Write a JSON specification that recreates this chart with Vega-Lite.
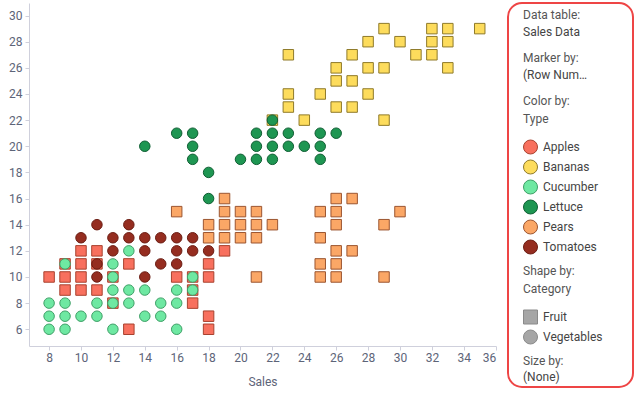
{
  "$schema": "https://vega.github.io/schema/vega-lite/v6.json",
  "padding": {"left": 8, "top": 2, "right": 3, "bottom": 2},
  "background": "white",
  "config": {
    "font": "Roboto",
    "view": {"stroke": null},
    "concat": {"spacing": 10},
    "axis": {
      "grid": false,
      "domainColor": "#cfd0dc",
      "tickColor": "#cfd0dc",
      "tickSize": 4,
      "labelColor": "#5d6478",
      "labelFontSize": 12,
      "labelFont": "Roboto",
      "titleFont": "Roboto",
      "titleFontSize": 12,
      "titleFontWeight": "normal",
      "titleColor": "#5d6478"
    },
    "legend": {
      "padding": 0,
      "titleFont": "Roboto",
      "titleFontSize": 12,
      "titleFontWeight": "normal",
      "titleColor": "#555555",
      "titleLineHeight": 17.5,
      "titleLimit": 200,
      "labelFont": "Roboto",
      "labelFontSize": 12,
      "labelColor": "#444444",
      "labelOffset": 5,
      "symbolSize": 196,
      "symbolStrokeWidth": 1,
      "rowPadding": 1
    }
  },
  "datasets": {
    "sales": [
      {"Sales": 8, "Value": 10, "Type": "Apples", "Category": "Fruit"},
      {"Sales": 9, "Value": 9, "Type": "Apples", "Category": "Fruit"},
      {"Sales": 9, "Value": 10, "Type": "Apples", "Category": "Fruit"},
      {"Sales": 9, "Value": 11, "Type": "Apples", "Category": "Fruit"},
      {"Sales": 10, "Value": 9, "Type": "Apples", "Category": "Fruit"},
      {"Sales": 10, "Value": 10, "Type": "Apples", "Category": "Fruit"},
      {"Sales": 10, "Value": 11, "Type": "Apples", "Category": "Fruit"},
      {"Sales": 10, "Value": 12, "Type": "Apples", "Category": "Fruit"},
      {"Sales": 11, "Value": 9, "Type": "Apples", "Category": "Fruit"},
      {"Sales": 11, "Value": 11, "Type": "Apples", "Category": "Fruit"},
      {"Sales": 11, "Value": 12, "Type": "Apples", "Category": "Fruit"},
      {"Sales": 12, "Value": 8, "Type": "Apples", "Category": "Fruit"},
      {"Sales": 12, "Value": 10, "Type": "Apples", "Category": "Fruit"},
      {"Sales": 13, "Value": 6, "Type": "Apples", "Category": "Fruit"},
      {"Sales": 13, "Value": 11, "Type": "Apples", "Category": "Fruit"},
      {"Sales": 16, "Value": 10, "Type": "Apples", "Category": "Fruit"},
      {"Sales": 17, "Value": 8, "Type": "Apples", "Category": "Fruit"},
      {"Sales": 17, "Value": 9, "Type": "Apples", "Category": "Fruit"},
      {"Sales": 17, "Value": 10, "Type": "Apples", "Category": "Fruit"},
      {"Sales": 18, "Value": 6, "Type": "Apples", "Category": "Fruit"},
      {"Sales": 18, "Value": 7, "Type": "Apples", "Category": "Fruit"},
      {"Sales": 18, "Value": 10, "Type": "Apples", "Category": "Fruit"},
      {"Sales": 18, "Value": 11, "Type": "Apples", "Category": "Fruit"},
      {"Sales": 19, "Value": 12, "Type": "Apples", "Category": "Fruit"},
      {"Sales": 22, "Value": 22, "Type": "Bananas", "Category": "Fruit"},
      {"Sales": 23, "Value": 23, "Type": "Bananas", "Category": "Fruit"},
      {"Sales": 23, "Value": 24, "Type": "Bananas", "Category": "Fruit"},
      {"Sales": 23, "Value": 27, "Type": "Bananas", "Category": "Fruit"},
      {"Sales": 24, "Value": 22, "Type": "Bananas", "Category": "Fruit"},
      {"Sales": 25, "Value": 24, "Type": "Bananas", "Category": "Fruit"},
      {"Sales": 26, "Value": 23, "Type": "Bananas", "Category": "Fruit"},
      {"Sales": 26, "Value": 25, "Type": "Bananas", "Category": "Fruit"},
      {"Sales": 26, "Value": 26, "Type": "Bananas", "Category": "Fruit"},
      {"Sales": 27, "Value": 23, "Type": "Bananas", "Category": "Fruit"},
      {"Sales": 27, "Value": 25, "Type": "Bananas", "Category": "Fruit"},
      {"Sales": 27, "Value": 27, "Type": "Bananas", "Category": "Fruit"},
      {"Sales": 28, "Value": 24, "Type": "Bananas", "Category": "Fruit"},
      {"Sales": 28, "Value": 26, "Type": "Bananas", "Category": "Fruit"},
      {"Sales": 28, "Value": 28, "Type": "Bananas", "Category": "Fruit"},
      {"Sales": 29, "Value": 22, "Type": "Bananas", "Category": "Fruit"},
      {"Sales": 29, "Value": 26, "Type": "Bananas", "Category": "Fruit"},
      {"Sales": 29, "Value": 29, "Type": "Bananas", "Category": "Fruit"},
      {"Sales": 30, "Value": 28, "Type": "Bananas", "Category": "Fruit"},
      {"Sales": 31, "Value": 27, "Type": "Bananas", "Category": "Fruit"},
      {"Sales": 32, "Value": 27, "Type": "Bananas", "Category": "Fruit"},
      {"Sales": 32, "Value": 28, "Type": "Bananas", "Category": "Fruit"},
      {"Sales": 32, "Value": 29, "Type": "Bananas", "Category": "Fruit"},
      {"Sales": 33, "Value": 26, "Type": "Bananas", "Category": "Fruit"},
      {"Sales": 33, "Value": 28, "Type": "Bananas", "Category": "Fruit"},
      {"Sales": 33, "Value": 29, "Type": "Bananas", "Category": "Fruit"},
      {"Sales": 35, "Value": 29, "Type": "Bananas", "Category": "Fruit"},
      {"Sales": 8, "Value": 6, "Type": "Cucumber", "Category": "Vegetables"},
      {"Sales": 8, "Value": 7, "Type": "Cucumber", "Category": "Vegetables"},
      {"Sales": 8, "Value": 8, "Type": "Cucumber", "Category": "Vegetables"},
      {"Sales": 9, "Value": 6, "Type": "Cucumber", "Category": "Vegetables"},
      {"Sales": 9, "Value": 7, "Type": "Cucumber", "Category": "Vegetables"},
      {"Sales": 9, "Value": 8, "Type": "Cucumber", "Category": "Vegetables"},
      {"Sales": 9, "Value": 11, "Type": "Cucumber", "Category": "Vegetables"},
      {"Sales": 10, "Value": 7, "Type": "Cucumber", "Category": "Vegetables"},
      {"Sales": 11, "Value": 7, "Type": "Cucumber", "Category": "Vegetables"},
      {"Sales": 11, "Value": 8, "Type": "Cucumber", "Category": "Vegetables"},
      {"Sales": 12, "Value": 6, "Type": "Cucumber", "Category": "Vegetables"},
      {"Sales": 12, "Value": 8, "Type": "Cucumber", "Category": "Vegetables"},
      {"Sales": 12, "Value": 9, "Type": "Cucumber", "Category": "Vegetables"},
      {"Sales": 12, "Value": 10, "Type": "Cucumber", "Category": "Vegetables"},
      {"Sales": 12, "Value": 11, "Type": "Cucumber", "Category": "Vegetables"},
      {"Sales": 13, "Value": 8, "Type": "Cucumber", "Category": "Vegetables"},
      {"Sales": 13, "Value": 9, "Type": "Cucumber", "Category": "Vegetables"},
      {"Sales": 13, "Value": 12, "Type": "Cucumber", "Category": "Vegetables"},
      {"Sales": 14, "Value": 7, "Type": "Cucumber", "Category": "Vegetables"},
      {"Sales": 14, "Value": 9, "Type": "Cucumber", "Category": "Vegetables"},
      {"Sales": 15, "Value": 7, "Type": "Cucumber", "Category": "Vegetables"},
      {"Sales": 15, "Value": 8, "Type": "Cucumber", "Category": "Vegetables"},
      {"Sales": 16, "Value": 6, "Type": "Cucumber", "Category": "Vegetables"},
      {"Sales": 16, "Value": 8, "Type": "Cucumber", "Category": "Vegetables"},
      {"Sales": 16, "Value": 9, "Type": "Cucumber", "Category": "Vegetables"},
      {"Sales": 17, "Value": 9, "Type": "Cucumber", "Category": "Vegetables"},
      {"Sales": 17, "Value": 10, "Type": "Cucumber", "Category": "Vegetables"},
      {"Sales": 14, "Value": 20, "Type": "Lettuce", "Category": "Vegetables"},
      {"Sales": 16, "Value": 21, "Type": "Lettuce", "Category": "Vegetables"},
      {"Sales": 17, "Value": 19, "Type": "Lettuce", "Category": "Vegetables"},
      {"Sales": 17, "Value": 20, "Type": "Lettuce", "Category": "Vegetables"},
      {"Sales": 17, "Value": 21, "Type": "Lettuce", "Category": "Vegetables"},
      {"Sales": 18, "Value": 16, "Type": "Lettuce", "Category": "Vegetables"},
      {"Sales": 18, "Value": 18, "Type": "Lettuce", "Category": "Vegetables"},
      {"Sales": 20, "Value": 19, "Type": "Lettuce", "Category": "Vegetables"},
      {"Sales": 21, "Value": 19, "Type": "Lettuce", "Category": "Vegetables"},
      {"Sales": 21, "Value": 20, "Type": "Lettuce", "Category": "Vegetables"},
      {"Sales": 21, "Value": 21, "Type": "Lettuce", "Category": "Vegetables"},
      {"Sales": 22, "Value": 19, "Type": "Lettuce", "Category": "Vegetables"},
      {"Sales": 22, "Value": 20, "Type": "Lettuce", "Category": "Vegetables"},
      {"Sales": 22, "Value": 21, "Type": "Lettuce", "Category": "Vegetables"},
      {"Sales": 22, "Value": 22, "Type": "Lettuce", "Category": "Vegetables"},
      {"Sales": 23, "Value": 20, "Type": "Lettuce", "Category": "Vegetables"},
      {"Sales": 23, "Value": 21, "Type": "Lettuce", "Category": "Vegetables"},
      {"Sales": 24, "Value": 20, "Type": "Lettuce", "Category": "Vegetables"},
      {"Sales": 25, "Value": 19, "Type": "Lettuce", "Category": "Vegetables"},
      {"Sales": 25, "Value": 20, "Type": "Lettuce", "Category": "Vegetables"},
      {"Sales": 25, "Value": 21, "Type": "Lettuce", "Category": "Vegetables"},
      {"Sales": 26, "Value": 21, "Type": "Lettuce", "Category": "Vegetables"},
      {"Sales": 16, "Value": 15, "Type": "Pears", "Category": "Fruit"},
      {"Sales": 18, "Value": 13, "Type": "Pears", "Category": "Fruit"},
      {"Sales": 18, "Value": 14, "Type": "Pears", "Category": "Fruit"},
      {"Sales": 19, "Value": 13, "Type": "Pears", "Category": "Fruit"},
      {"Sales": 19, "Value": 14, "Type": "Pears", "Category": "Fruit"},
      {"Sales": 19, "Value": 15, "Type": "Pears", "Category": "Fruit"},
      {"Sales": 19, "Value": 16, "Type": "Pears", "Category": "Fruit"},
      {"Sales": 20, "Value": 13, "Type": "Pears", "Category": "Fruit"},
      {"Sales": 20, "Value": 14, "Type": "Pears", "Category": "Fruit"},
      {"Sales": 20, "Value": 15, "Type": "Pears", "Category": "Fruit"},
      {"Sales": 21, "Value": 10, "Type": "Pears", "Category": "Fruit"},
      {"Sales": 21, "Value": 13, "Type": "Pears", "Category": "Fruit"},
      {"Sales": 21, "Value": 14, "Type": "Pears", "Category": "Fruit"},
      {"Sales": 21, "Value": 15, "Type": "Pears", "Category": "Fruit"},
      {"Sales": 22, "Value": 14, "Type": "Pears", "Category": "Fruit"},
      {"Sales": 25, "Value": 10, "Type": "Pears", "Category": "Fruit"},
      {"Sales": 25, "Value": 11, "Type": "Pears", "Category": "Fruit"},
      {"Sales": 25, "Value": 13, "Type": "Pears", "Category": "Fruit"},
      {"Sales": 25, "Value": 15, "Type": "Pears", "Category": "Fruit"},
      {"Sales": 26, "Value": 10, "Type": "Pears", "Category": "Fruit"},
      {"Sales": 26, "Value": 11, "Type": "Pears", "Category": "Fruit"},
      {"Sales": 26, "Value": 12, "Type": "Pears", "Category": "Fruit"},
      {"Sales": 26, "Value": 14, "Type": "Pears", "Category": "Fruit"},
      {"Sales": 26, "Value": 15, "Type": "Pears", "Category": "Fruit"},
      {"Sales": 26, "Value": 16, "Type": "Pears", "Category": "Fruit"},
      {"Sales": 27, "Value": 12, "Type": "Pears", "Category": "Fruit"},
      {"Sales": 27, "Value": 16, "Type": "Pears", "Category": "Fruit"},
      {"Sales": 29, "Value": 10, "Type": "Pears", "Category": "Fruit"},
      {"Sales": 29, "Value": 14, "Type": "Pears", "Category": "Fruit"},
      {"Sales": 30, "Value": 15, "Type": "Pears", "Category": "Fruit"},
      {"Sales": 10, "Value": 13, "Type": "Tomatoes", "Category": "Vegetables"},
      {"Sales": 11, "Value": 10, "Type": "Tomatoes", "Category": "Vegetables"},
      {"Sales": 11, "Value": 11, "Type": "Tomatoes", "Category": "Vegetables"},
      {"Sales": 11, "Value": 14, "Type": "Tomatoes", "Category": "Vegetables"},
      {"Sales": 12, "Value": 12, "Type": "Tomatoes", "Category": "Vegetables"},
      {"Sales": 12, "Value": 13, "Type": "Tomatoes", "Category": "Vegetables"},
      {"Sales": 13, "Value": 13, "Type": "Tomatoes", "Category": "Vegetables"},
      {"Sales": 13, "Value": 14, "Type": "Tomatoes", "Category": "Vegetables"},
      {"Sales": 14, "Value": 10, "Type": "Tomatoes", "Category": "Vegetables"},
      {"Sales": 14, "Value": 12, "Type": "Tomatoes", "Category": "Vegetables"},
      {"Sales": 14, "Value": 13, "Type": "Tomatoes", "Category": "Vegetables"},
      {"Sales": 15, "Value": 11, "Type": "Tomatoes", "Category": "Vegetables"},
      {"Sales": 15, "Value": 13, "Type": "Tomatoes", "Category": "Vegetables"},
      {"Sales": 16, "Value": 11, "Type": "Tomatoes", "Category": "Vegetables"},
      {"Sales": 16, "Value": 12, "Type": "Tomatoes", "Category": "Vegetables"},
      {"Sales": 16, "Value": 13, "Type": "Tomatoes", "Category": "Vegetables"},
      {"Sales": 17, "Value": 12, "Type": "Tomatoes", "Category": "Vegetables"},
      {"Sales": 17, "Value": 13, "Type": "Tomatoes", "Category": "Vegetables"},
      {"Sales": 18, "Value": 12, "Type": "Tomatoes", "Category": "Vegetables"}
    ],
    "settings": [{"Table": "Sales Data", "Marker": "(Row Num…", "SizeBy": "(None)"}]
  },
  "hconcat": [
    {
      "width": 467,
      "height": 343,
      "data": {"name": "sales"},
      "mark": {"type": "point", "filled": true, "size": 110, "strokeWidth": 1, "opacity": 1},
      "encoding": {
        "x": {
          "field": "Sales", "type": "quantitative",
          "scale": {"domain": [6.74, 36.02], "nice": false, "zero": false},
          "axis": {"title": "Sales", "values": [8, 10, 12, 14, 16, 18, 20, 22, 24, 26, 28, 30, 32, 34, 36], "labelPadding": 2, "titlePadding": 13, "labelFlush": true, "labelOverlap": false}
        },
        "y": {
          "field": "Value", "type": "quantitative",
          "scale": {"domain": [4.72, 30.96], "nice": false, "zero": false},
          "axis": {"title": null, "values": [6, 8, 10, 12, 14, 16, 18, 20, 22, 24, 26, 28, 30], "labelPadding": 3, "labelFlush": false}
        },
        "fill": {
          "field": "Type", "type": "nominal",
          "scale": {"domain": ["Apples", "Bananas", "Cucumber", "Lettuce", "Pears", "Tomatoes"],
                    "range": ["#f8705e", "#fddc5c", "#6ee8a2", "#1e9652", "#fba766", "#952d20"]},
          "legend": {"orient": "none", "legendX": 494, "legendY": 93, "symbolType": "circle", "titlePadding": 14,
                     "title": ["Color by:", "Type"]}
        },
        "stroke": {
          "field": "Type", "type": "nominal",
          "scale": {"domain": ["Apples", "Bananas", "Cucumber", "Lettuce", "Pears", "Tomatoes"],
                    "range": ["#a8422f", "#8f7a2a", "#3e9f66", "#0f5e33", "#9b5530", "#6b1c12"]},
          "legend": {"orient": "none", "legendX": 494, "legendY": 93, "symbolType": "circle", "titlePadding": 14,
                     "title": ["Color by:", "Type"]}
        },
        "shape": {
          "field": "Category", "type": "nominal",
          "scale": {"domain": ["Fruit", "Vegetables"], "range": ["square", "circle"]},
          "legend": {"orient": "none", "legendX": 494, "legendY": 263, "titlePadding": 14,
                     "symbolFillColor": "#a6a6a6", "symbolStrokeColor": "#8a8a8a",
                     "title": ["Shape by:", "Category"]}
        }
      }
    },
    {
      "width": 125,
      "height": 384,
      "view": {"stroke": "#ee4545", "strokeWidth": 2, "cornerRadius": 14, "fill": "white"},
      "data": {"name": "settings"},
      "mark": {"type": "point", "opacity": 0},
      "encoding": {
        "size": {
          "field": "Table", "type": "ordinal",
          "scale": {"range": [0]},
          "legend": {"orient": "none", "legendX": 494, "legendY": 7, "symbolSize": 0, "symbolOpacity": 0, "labelOffset": -12, "titlePadding": 10, "title": "Data table:"}
        },
        "strokeWidth": {
          "field": "Marker", "type": "ordinal",
          "scale": {"range": [0]},
          "legend": {"orient": "none", "legendX": 494, "legendY": 50, "symbolSize": 0, "symbolOpacity": 0, "labelOffset": -12, "titlePadding": 10, "title": "Marker by:"}
        },
        "opacity": {
          "field": "SizeBy", "type": "ordinal",
          "scale": {"range": [0]},
          "legend": {"orient": "none", "legendX": 494, "legendY": 353, "symbolSize": 0, "symbolOpacity": 0, "labelOffset": -12, "titlePadding": 3, "title": "Size by:"}
        }
      }
    }
  ]
}
